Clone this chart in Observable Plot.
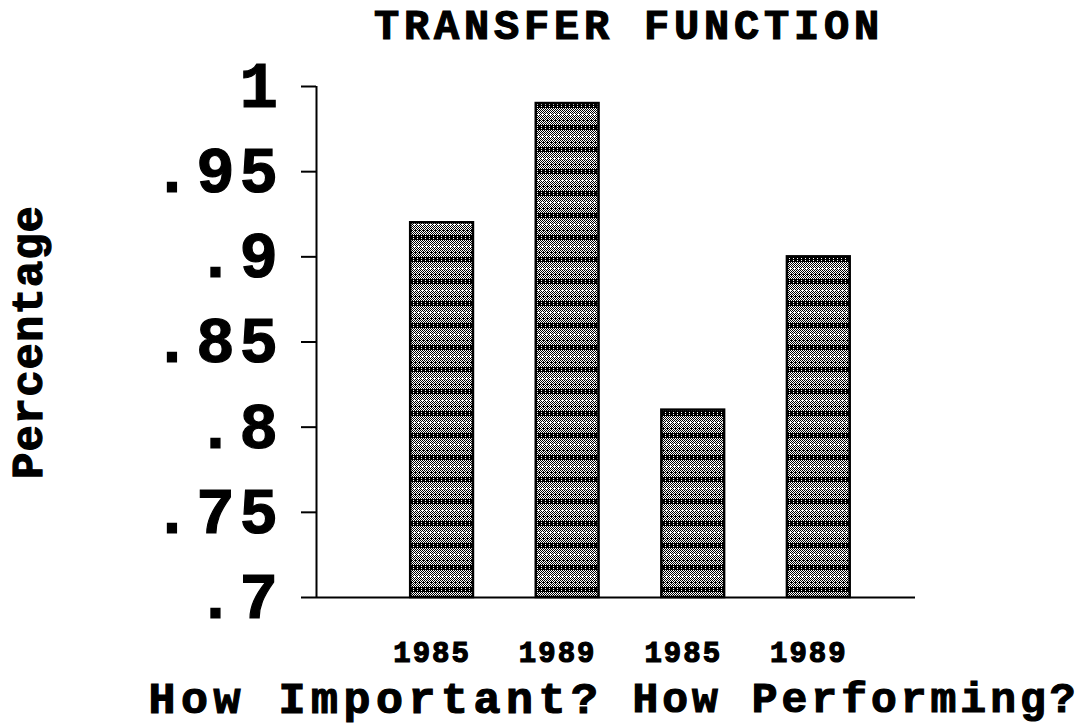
<!DOCTYPE html>
<html><head><meta charset="utf-8">
<script src="https://cdn.jsdelivr.net/npm/d3@7"></script>
<script src="https://cdn.jsdelivr.net/npm/@observablehq/plot@0.6"></script>
<style>
html,body{margin:0;padding:0;background:#fff;}
#chart svg text{stroke:#000;stroke-width:1.2px;}
</style></head><body><div id="chart"></div>
<script>
const titleText = ["TRANSFER FUNCTION"];
const yLabel = ["Percentage"];
const years = ["1985", "1989", "1985", "1989"];
const values = [0.92, 0.99, 0.81, 0.90];
const yTicks = [0.7, 0.75, 0.8, 0.85, 0.9, 0.95, 1];
const yTickLabels = [".7", ".75", ".8", ".85", ".9", ".95", "1"];
const groupLabelA = ["How Important?"];
const groupLabelB = ["How Performing?"];

const bars = values.map((v, i) => ({pos: i + 1, year: years[i], value: v}));

function defsMark() {
  const defs = d3.create("svg:defs");
  const W = 4, H = 22;
  const p = defs.append("pattern").attr("id", "dither")
    .attr("patternUnits", "userSpaceOnUse").attr("width", W).attr("height", H);
  p.append("rect").attr("width", W).attr("height", H).attr("fill", "#fff");
  for (let r = 0; r < H; r++) {
    for (let c = 0; c < W; c++) {
      let on;
      if (r >= 15 && r <= 19) on = !(r % 2 === 0 && c === 1);
      else if (r >= 3 && r <= 5) on = (r + c) % 2 === 0 && c !== 2;
      else if (r >= 9 && r <= 11) on = (r + c) % 2 === 0 || c === 3;
      else on = (r + c) % 2 === 0;
      if (on) p.append("rect").attr("x", c).attr("y", r).attr("width", 1).attr("height", 1).attr("fill", "#000");
    }
  }
  return defs.node();
}

const font = "'Liberation Mono', 'DejaVu Sans Mono', monospace";

const chart = Plot.plot({
  width: 1083,
  height: 727,
  marginLeft: 316,
  marginRight: 168,
  marginTop: 86,
  marginBottom: 130,
  style: {fontFamily: font, fontWeight: "bold", color: "#000", background: "#fff"},
  x: {domain: [0, 4.77]},
  y: {domain: [0.7, 1]},
  marks: [
    defsMark,
    Plot.rect(bars, {x1: d => d.pos - 0.25, x2: d => d.pos + 0.25, y1: () => 0.7, y2: "value",
      fill: "url(#dither)", stroke: "#000", strokeWidth: 2.5}),
    Plot.ruleX([0], {stroke: "#000", strokeWidth: 2}),
    Plot.ruleY([0.7], {stroke: "#000", strokeWidth: 2}),
    Plot.axisY({ticks: yTicks, tickFormat: d => yTickLabels[yTicks.indexOf(d)], tickSize: 15,
      tickPadding: 18.5, fontSize: 64, label: null, strokeWidth: 2}),
    Plot.axisX({ticks: bars.map(d => d.pos), tickFormat: d => years[d - 1], tickSize: 0,
      tickPadding: 44, fontSize: 29, dx: -10, label: null}),
    Plot.text(titleText, {frameAnchor: "top", lineAnchor: "middle", textAnchor: "middle",
      text: d => d, dx: 13, dy: -61, fontSize: 42}),
    Plot.text(yLabel, {frameAnchor: "left", lineAnchor: "middle", textAnchor: "middle",
      text: d => d, rotate: -90, dx: -289, fontSize: 44}),
    Plot.text(groupLabelA, {frameAnchor: "bottom-left", lineAnchor: "middle", textAnchor: "start",
      text: d => d, dx: -168, dy: 101, fontSize: 45}),
    Plot.text(groupLabelB, {frameAnchor: "bottom-left", lineAnchor: "middle", textAnchor: "start",
      text: d => d, dx: 316, dy: 101, fontSize: 43})
  ]
});
const sel = d3.select(chart);
const spacing = new Map([
  [titleText[0], "4.8px"], [yLabel[0], "1px"], [groupLabelA[0], "5.5px"], [groupLabelB[0], "4px"],
  ...years.map(y => [y, "2px"]), ...yTickLabels.map(t => [t, "5px"])
]);
sel.selectAll("text").each(function() {
  const s = spacing.get(this.textContent);
  if (s) this.setAttribute("letter-spacing", s), this.style.letterSpacing = s;
});
document.getElementById("chart").append(chart);
</script></body></html>
